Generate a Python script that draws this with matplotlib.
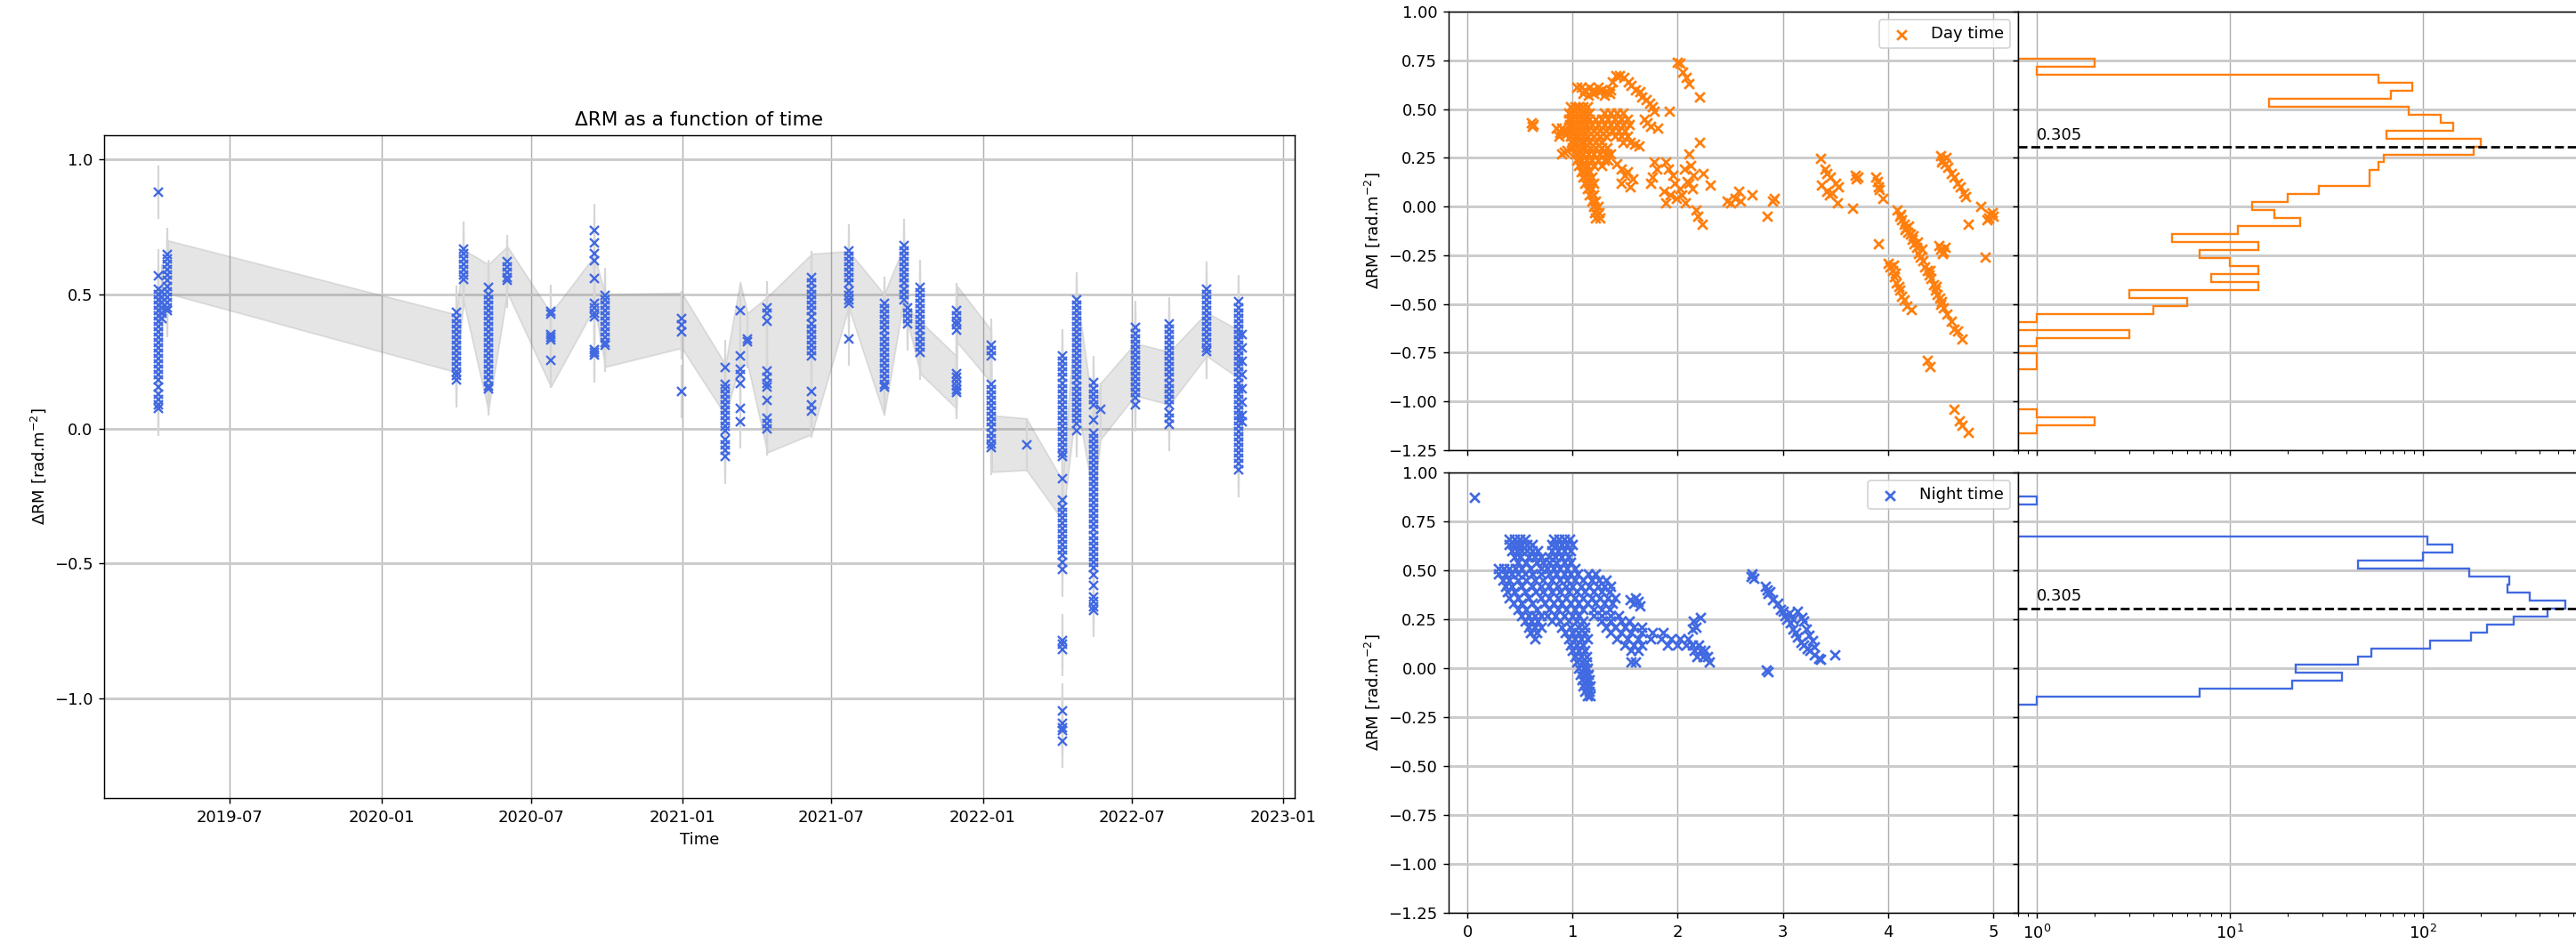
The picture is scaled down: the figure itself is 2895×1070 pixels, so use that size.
import numpy as np
import matplotlib.pyplot as plt
import matplotlib.dates as mdates

BLUE = 'royalblue'
ORANGE = '#ff7f0e'

# ---------------- time series: dRM values per observing day ----------------
ts_dates = ['2019-04-05', '2019-04-09', '2019-04-16', '2020-04-01', '2020-04-10',
            '2020-05-10', '2020-06-02', '2020-07-25', '2020-09-16', '2020-09-29',
            '2020-12-31', '2021-02-22', '2021-03-12', '2021-03-21', '2021-04-14',
            '2021-06-07', '2021-07-22', '2021-09-03', '2021-09-27', '2021-10-02',
            '2021-10-17', '2021-11-30', '2022-01-11', '2022-02-23', '2022-04-08',
            '2022-04-25', '2022-05-16', '2022-05-24', '2022-07-05', '2022-08-16',
            '2022-09-30', '2022-11-08', '2022-11-12']
ts_values = [
    [0.879, 0.567, 0.52, 0.50, 0.48, 0.46, 0.44, 0.42, 0.40, 0.38, 0.36, 0.34, 0.32, 0.30,
     0.28, 0.26, 0.24, 0.22, 0.20, 0.18, 0.155, 0.13, 0.11, 0.09, 0.075],
    [0.51, 0.49, 0.47, 0.45, 0.43, 0.41],
    [0.648, 0.63, 0.61, 0.59, 0.57, 0.55, 0.53, 0.51, 0.49, 0.47, 0.45, 0.44],
    [0.432, 0.41, 0.39, 0.37, 0.35, 0.33, 0.31, 0.29, 0.27, 0.25, 0.23, 0.21, 0.197, 0.18],
    [0.668, 0.65, 0.63, 0.61, 0.59, 0.57, 0.554],
    [0.526, 0.50, 0.48, 0.46, 0.44, 0.42, 0.40, 0.38, 0.36, 0.34, 0.32, 0.30, 0.28, 0.26,
     0.24, 0.22, 0.20, 0.18, 0.16, 0.148],
    [0.62, 0.60, 0.58, 0.56, 0.55],
    [0.435, 0.425, 0.35, 0.34, 0.33, 0.253],
    [0.736, 0.689, 0.652, 0.624, 0.559, 0.465, 0.45, 0.43, 0.416, 0.294, 0.285, 0.273],
    [0.497, 0.48, 0.46, 0.44, 0.42, 0.40, 0.38, 0.36, 0.34, 0.32, 0.31],
    [0.411, 0.385, 0.359, 0.138],
    [0.229, 0.164, 0.15, 0.13, 0.11, 0.09, 0.07, 0.05, 0.03, 0.01, -0.006, -0.04, -0.06,
     -0.08, -0.104],
    [0.44, 0.27, 0.22, 0.20, 0.17, 0.075, 0.026],
    [0.335, 0.325],
    [0.448, 0.43, 0.40, 0.213, 0.19, 0.17, 0.156, 0.107, 0.039, 0.02, 0.0],
    [0.562, 0.54, 0.52, 0.50, 0.48, 0.46, 0.44, 0.416, 0.39, 0.37, 0.35, 0.33, 0.31, 0.29,
     0.27, 0.14, 0.09, 0.067],
    [0.66, 0.64, 0.62, 0.60, 0.58, 0.56, 0.54, 0.513, 0.497, 0.48, 0.465, 0.335],
    [0.465, 0.445, 0.425, 0.405, 0.385, 0.365, 0.345, 0.325, 0.305, 0.285, 0.265, 0.245,
     0.225, 0.205, 0.185, 0.165, 0.156],
    [0.679, 0.66, 0.64, 0.62, 0.60, 0.58, 0.56, 0.54, 0.52, 0.50, 0.48],
    [0.448, 0.43, 0.41, 0.39],
    [0.526, 0.505, 0.485, 0.465, 0.445, 0.425, 0.405, 0.385, 0.365, 0.345, 0.325, 0.305, 0.283],
    [0.44, 0.42, 0.40, 0.385, 0.367, 0.205, 0.19, 0.175, 0.16, 0.145, 0.136],
    [0.31, 0.29, 0.27, 0.164, 0.145, 0.125, 0.105, 0.085, 0.065, 0.045, 0.025, 0.005,
     -0.015, -0.035, -0.055, -0.071],
    [-0.06],
    [0.27, 0.25, 0.23, 0.21, 0.19, 0.17, 0.15, 0.13, 0.11, 0.09, 0.07, 0.05, 0.03, 0.01,
     -0.01, -0.03, -0.05, -0.07, -0.09, -0.104, -0.185, -0.266, -0.29, -0.31, -0.33, -0.35,
     -0.37, -0.39, -0.41, -0.43, -0.45, -0.47, -0.494, -0.523, -0.786, -0.80, -0.819,
     -1.046, -1.095, -1.11, -1.12, -1.16],
    [0.48, 0.46, 0.44, 0.42, 0.40, 0.38, 0.36, 0.34, 0.32, 0.30, 0.28, 0.26, 0.24, 0.22,
     0.20, 0.18, 0.16, 0.14, 0.12, 0.10, 0.08, 0.06, 0.04, 0.02, -0.006],
    [0.172, 0.15, 0.13, 0.11, 0.09, 0.034, -0.015, -0.035, -0.055, -0.075, -0.095, -0.115,
     -0.135, -0.155, -0.175, -0.195, -0.215, -0.235, -0.255, -0.275, -0.295, -0.315, -0.335,
     -0.355, -0.375, -0.395, -0.415, -0.435, -0.455, -0.475, -0.495, -0.515, -0.543, -0.58,
     -0.624, -0.64, -0.66, -0.673],
    [0.071],
    [0.375, 0.355, 0.335, 0.315, 0.295, 0.275, 0.255, 0.235, 0.215, 0.195, 0.175, 0.155,
     0.135, 0.115, 0.09],
    [0.39, 0.37, 0.35, 0.33, 0.31, 0.29, 0.27, 0.25, 0.23, 0.21, 0.19, 0.17, 0.15, 0.13,
     0.11, 0.09, 0.058, 0.04, 0.018],
    [0.52, 0.50, 0.48, 0.46, 0.44, 0.42, 0.40, 0.38, 0.36, 0.34, 0.32, 0.30, 0.286],
    [0.473, 0.45, 0.43, 0.41, 0.39, 0.37, 0.35, 0.33, 0.31, 0.29, 0.27, 0.25, 0.23, 0.21,
     0.19, 0.17, 0.15, 0.13, 0.11, 0.09, 0.07, 0.05, 0.03, 0.01, -0.01, -0.03, -0.05, -0.07,
     -0.09, -0.11, -0.13, -0.153],
    [0.35, 0.30, 0.25, 0.20, 0.15, 0.10, 0.05, 0.026],
]
rm_err = 0.1

# grey envelope (daily mean +/- spread)
band_dates = ['2019-04-16', '2020-04-01', '2020-04-10', '2020-05-10', '2020-06-02',
              '2020-07-25', '2020-09-16', '2020-09-29', '2020-12-31', '2021-02-22',
              '2021-03-12', '2021-03-21', '2021-04-14', '2021-06-07', '2021-07-22',
              '2021-09-03', '2021-09-27', '2021-10-02', '2021-10-17', '2021-11-30',
              '2021-12-01', '2022-01-11', '2022-01-12', '2022-02-23', '2022-04-08',
              '2022-04-25', '2022-05-16', '2022-05-24', '2022-07-05', '2022-08-16',
              '2022-09-30', '2022-11-08']
band_lo = [0.503, 0.21, 0.47, 0.067, 0.505, 0.156, 0.45, 0.23, 0.30, 0.05, 0.237, 0.24,
           -0.088, -0.02, 0.45, 0.05, 0.48, 0.39, 0.205, 0.075, 0.32, 0.172, -0.16, -0.153,
           -0.34, 0.10, -0.266, -0.04, 0.123, 0.09, 0.27, 0.188]
band_hi = [0.700, 0.425, 0.665, 0.611, 0.678, 0.43, 0.643, 0.50, 0.505, 0.24, 0.546, 0.43,
           0.49, 0.65, 0.66, 0.50, 0.68, 0.45, 0.40, 0.27, 0.53, 0.367, 0.05, 0.039,
           -0.193, 0.51, 0.05, 0.17, 0.318, 0.286, 0.432, 0.367]

# ---------------- day time scatter ----------------
day_rows_y = [0.51, 0.48, 0.45, 0.42, 0.39, 0.36, 0.33, 0.30, 0.27, 0.24, 0.21, 0.18,
              0.15, 0.12, 0.09, 0.06, 0.03, 0.00, -0.03, -0.06]
day_rows_x = [
    [0.98, 1.02, 1.06, 1.10, 1.14],
    [0.96, 1.00, 1.04, 1.08, 1.12, 1.16, 1.30, 1.36, 1.42, 1.48],
    [0.96, 1.00, 1.04, 1.08, 1.12, 1.16, 1.22, 1.28, 1.34, 1.40, 1.46, 1.52],
    [0.97, 1.01, 1.05, 1.09, 1.13, 1.18, 1.24, 1.30, 1.36, 1.42, 1.48, 1.54],
    [0.98, 1.02, 1.06, 1.10, 1.14, 1.20, 1.26, 1.32, 1.38, 1.44, 1.50],
    [0.98, 1.02, 1.06, 1.10, 1.14, 1.20, 1.26, 1.32, 1.40, 1.46, 1.52],
    [0.99, 1.03, 1.07, 1.11, 1.16, 1.22, 1.28, 1.48, 1.55],
    [1.00, 1.04, 1.08, 1.12, 1.17, 1.22, 1.28, 1.33],
    [1.02, 1.06, 1.10, 1.15, 1.20, 1.26, 1.31, 1.36],
    [1.04, 1.08, 1.13, 1.18, 1.24, 1.30, 1.34],
    [1.06, 1.10, 1.14, 1.20, 1.28],
    [1.08, 1.12, 1.16],
    [1.10, 1.14, 1.18],
    [1.12, 1.16, 1.20],
    [1.14, 1.18],
    [1.16, 1.20],
    [1.18, 1.22],
    [1.20, 1.24],
    [1.21, 1.25],
    [1.22, 1.26],
]
day_points = [
    (0.61, 0.43), (0.62, 0.41), (0.63, 0.42), (0.85, 0.40), (0.87, 0.36), (0.88, 0.38),
    (0.90, 0.40), (0.93, 0.37), (0.95, 0.39), (0.97, 0.41), (0.90, 0.27), (0.92, 0.28),
    (0.95, 0.29),
    (1.04, 0.61), (1.08, 0.61), (1.12, 0.60), (1.16, 0.61), (1.20, 0.60), (1.24, 0.61),
    (1.28, 0.60), (1.32, 0.59), (1.36, 0.60), (1.10, 0.58), (1.15, 0.57), (1.20, 0.58),
    (1.25, 0.59), (1.30, 0.57), (1.35, 0.58),
    (1.38, 0.64), (1.41, 0.67), (1.45, 0.67), (1.49, 0.66), (1.53, 0.64), (1.56, 0.62),
    (1.60, 0.60), (1.64, 0.59), (1.66, 0.56), (1.70, 0.55), (1.73, 0.53), (1.76, 0.51),
    (1.78, 0.49), (1.68, 0.45), (1.71, 0.43), (1.74, 0.41), (1.81, 0.40),
    (1.33, 0.27), (1.42, 0.22), (1.46, 0.19), (1.50, 0.16), (1.46, 0.12), (1.52, 0.18),
    (1.57, 0.14), (1.55, 0.10), (1.59, 0.32), (1.63, 0.31), (1.78, 0.23), (1.80, 0.19),
    (1.76, 0.15), (1.74, 0.12),
    (1.89, 0.23), (1.91, 0.19), (1.95, 0.16), (1.97, 0.12), (2.02, 0.09), (2.04, 0.06),
    (2.07, 0.02), (1.87, 0.08), (1.89, 0.02), (2.06, 0.19), (2.12, 0.21), (2.15, 0.16),
    (2.17, -0.02), (2.19, -0.05), (2.23, -0.09), (2.11, 0.12), (2.24, 0.17), (1.93, 0.06),
    (1.99, 0.04), (2.09, 0.13), (2.14, 0.09),
    (2.00, 0.74), (2.02, 0.735), (2.05, 0.69), (2.08, 0.66), (2.11, 0.63), (2.21, 0.56),
    (1.92, 0.49), (2.21, 0.33), (2.11, 0.27), (2.31, 0.11),
    (2.47, 0.03), (2.50, 0.02), (2.55, 0.04), (2.58, 0.08), (2.60, 0.03), (2.71, 0.06),
    (2.85, -0.05), (2.90, 0.03), (2.92, 0.04),
    (3.36, 0.245), (3.40, 0.19), (3.42, 0.17), (3.45, 0.15), (3.50, 0.12), (3.53, 0.10),
    (3.37, 0.11), (3.42, 0.08), (3.44, 0.06), (3.47, 0.07), (3.52, 0.02), (3.66, -0.01),
    (3.69, 0.16), (3.71, 0.15), (3.70, 0.14), (3.88, 0.15), (3.90, 0.13), (3.91, 0.10),
    (3.92, 0.085), (3.95, 0.04), (3.91, -0.19),
    (4.00, -0.29), (4.02, -0.31), (4.04, -0.33), (4.06, -0.36), (4.08, -0.39), (4.10, -0.41),
    (4.11, -0.43), (4.13, -0.46), (4.15, -0.48), (4.18, -0.51), (4.22, -0.53), (4.05, -0.30),
    (4.07, -0.34),
    (4.09, -0.02), (4.11, -0.05), (4.13, -0.07), (4.15, -0.09), (4.17, -0.11), (4.19, -0.13),
    (4.21, -0.14), (4.23, -0.17), (4.25, -0.19), (4.27, -0.21), (4.29, -0.24), (4.31, -0.26),
    (4.33, -0.28), (4.35, -0.31), (4.37, -0.33), (4.39, -0.35), (4.41, -0.37), (4.43, -0.40),
    (4.45, -0.43), (4.47, -0.45), (4.49, -0.47), (4.51, -0.49), (4.53, -0.52), (4.56, -0.55),
    (4.60, -0.59), (4.63, -0.63), (4.66, -0.64), (4.70, -0.68), (4.12, -0.04), (4.16, -0.12),
    (4.20, -0.10), (4.24, -0.15), (4.28, -0.18), (4.32, -0.22), (4.40, -0.33), (4.46, -0.41),
    (4.50, -0.50),
    (4.48, -0.20), (4.50, -0.22), (4.52, -0.24), (4.54, -0.21), (4.53, -0.23),
    (4.50, 0.26), (4.52, 0.24), (4.54, 0.22), (4.57, 0.20), (4.60, 0.17), (4.63, 0.15),
    (4.66, 0.12), (4.69, 0.10), (4.72, 0.07), (4.74, 0.05), (4.51, 0.23), (4.55, 0.25),
    (4.88, 0.00), (4.94, -0.07), (4.97, -0.04), (5.00, -0.05), (4.99, -0.03), (4.96, -0.06),
    (4.76, -0.09), (4.92, -0.26),
    (4.63, -1.04), (4.68, -1.10), (4.70, -1.12), (4.76, -1.16), (4.37, -0.79), (4.40, -0.82),
]

# ---------------- night time scatter ----------------
night_rows_y = [0.66, 0.63, 0.60, 0.57, 0.54, 0.51, 0.48, 0.45, 0.42, 0.39, 0.36, 0.33,
                0.30, 0.27, 0.24, 0.21, 0.18, 0.15, 0.12, 0.09, 0.06, 0.03, 0.00, -0.03,
                -0.06, -0.09, -0.12, -0.14]
night_rows_x = [
    [0.40, 0.45, 0.50, 0.55, 0.82, 0.87, 0.92, 0.97],
    [0.40, 0.44, 0.48, 0.52, 0.57, 0.62, 0.80, 0.85, 0.90, 0.95, 1.00],
    [0.42, 0.47, 0.52, 0.57, 0.62, 0.67, 0.80, 0.86, 0.92, 0.98],
    [0.45, 0.50, 0.58, 0.64, 0.70, 0.78, 0.84, 0.90, 0.96],
    [0.48, 0.56, 0.66, 0.72, 0.78, 0.85, 0.92, 0.98],
    [0.30, 0.35, 0.40, 0.46, 0.52, 0.60, 0.70, 0.76, 0.82, 0.88, 0.95, 1.02],
    [0.30, 0.36, 0.42, 0.48, 0.55, 0.62, 0.70, 0.78, 0.85, 0.92, 0.98, 1.05, 1.15, 1.22],
    [0.34, 0.40, 0.48, 0.56, 0.64, 0.72, 0.80, 0.88, 0.95, 1.02, 1.10, 1.18, 1.25, 1.32],
    [0.36, 0.42, 0.52, 0.62, 0.70, 0.78, 0.86, 0.94, 1.00, 1.08, 1.16, 1.24, 1.30, 1.36],
    [0.38, 0.45, 0.55, 0.65, 0.72, 0.80, 0.88, 0.96, 1.04, 1.12, 1.20, 1.28, 1.35],
    [0.40, 0.48, 0.58, 0.70, 0.78, 0.86, 0.94, 1.02, 1.10, 1.18, 1.26, 1.34, 1.40],
    [0.44, 0.52, 0.62, 0.74, 0.82, 0.90, 0.98, 1.06, 1.14, 1.22, 1.30, 1.38],
    [0.48, 0.56, 0.66, 0.78, 0.86, 0.94, 1.02, 1.10, 1.20, 1.28, 1.35],
    [0.52, 0.58, 0.64, 0.70, 0.76, 0.84, 0.92, 1.00, 1.06, 1.20, 1.28, 1.36, 1.44],
    [0.55, 0.61, 0.67, 0.80, 0.88, 0.96, 1.04, 1.10, 1.28, 1.36, 1.46, 1.54],
    [0.58, 0.64, 0.70, 0.90, 0.98, 1.06, 1.12, 1.32, 1.40, 1.50, 1.58, 1.66],
    [0.60, 0.66, 0.93, 1.00, 1.06, 1.12, 1.36, 1.46, 1.56, 1.66, 1.76, 1.86],
    [0.64, 0.96, 1.02, 1.08, 1.14, 1.42, 1.52, 1.62, 1.74, 1.84, 1.94, 2.02, 2.10],
    [0.98, 1.04, 1.10, 1.50, 1.58, 1.66, 1.90, 2.00, 2.08, 2.14, 2.20],
    [1.00, 1.06, 1.12, 1.56, 1.62, 2.16, 2.22, 2.26],
    [1.02, 1.08, 1.13, 2.18, 2.24, 2.28],
    [1.04, 1.09, 1.13, 1.56, 1.60, 2.30],
    [1.06, 1.11, 1.14],
    [1.07, 1.12, 1.15],
    [1.09, 1.13, 1.16],
    [1.10, 1.14, 1.17],
    [1.12, 1.16],
    [1.14, 1.17],
]
night_points = [
    (0.07, 0.875), (1.55, 0.35), (1.58, 0.33), (1.62, 0.34), (1.64, 0.32), (1.60, 0.36),
    (2.15, 0.24), (2.17, 0.21), (2.22, 0.26), (2.14, 0.20),
    (2.70, 0.47), (2.72, 0.46), (2.71, 0.48), (2.83, 0.42), (2.85, 0.40), (2.86, 0.38),
    (2.88, 0.39), (2.90, 0.35), (2.95, 0.33), (2.98, 0.30), (3.00, 0.29), (3.02, 0.27),
    (3.04, 0.25), (3.07, 0.23), (3.10, 0.20), (3.12, 0.18), (3.14, 0.16), (3.17, 0.13),
    (3.20, 0.12), (3.23, 0.10), (3.26, 0.09), (3.30, 0.07), (3.34, 0.05), (3.36, 0.045),
    (3.14, 0.29), (3.18, 0.26), (3.20, 0.24), (3.22, 0.20), (3.25, 0.17), (3.28, 0.14),
    (3.30, 0.11), (3.06, 0.28), (3.10, 0.25), (3.49, 0.07), (2.84, -0.01), (2.86, -0.02),
]

# ---------------- histograms (counts per bin, listed from top to bottom) ----------------
day_hist_top, day_hist_bottom = 0.7579, -1.1636
day_counts = [2, 1, 59, 88, 68, 16, 84, 124, 144, 65, 199, 184, 63, 59, 53, 53, 29, 20,
              13, 17, 23, 11, 5, 14, 7, 10, 14, 8, 14, 3, 6, 4, 1, 0, 3, 1, 0, 1, 1, 0,
              0, 0, 0, 0, 1, 2, 1]
night_hist_top, night_hist_bottom = 0.8776, -0.1879
night_counts = [1, 0, 0, 0, 0, 105, 142, 100, 46, 174, 280, 275, 356, 547, 442, 294,
                215, 178, 109, 54, 46, 22, 38, 21, 7, 1]
median_rm = 0.305


def rows_to_xy(rows_y, rows_x, extra):
    xs, ys = [], []
    for y, row in zip(rows_y, rows_x):
        xs += row
        ys += [y] * len(row)
    xs += [p[0] for p in extra]
    ys += [p[1] for p in extra]
    return xs, ys


def grid_style(ax):
    ax.grid(axis='x', color='#b0b0b0', lw=0.8)
    ax.grid(axis='y', color='#cbcbcb', lw=1.6)
    ax.set_axisbelow(True)


W, H, DPI = 2895, 1070, 130
fig = plt.figure(figsize=(W / DPI, H / DPI), dpi=DPI)

# ---- left panel ----
ax = fig.add_axes([117 / W, 1 - 897 / H, (1455 - 117) / W, (897 - 152) / H])
t_all, v_all = [], []
for d, vals in zip(ts_dates, ts_values):
    t_all += [np.datetime64(d)] * len(vals)
    v_all += vals
t_all = np.array(t_all)
ax.fill_between(np.array(band_dates, dtype='datetime64[D]'), band_lo, band_hi,
                color='gray', alpha=0.2, zorder=1)
ax.errorbar(t_all, v_all, yerr=rm_err, fmt='x', color=BLUE, ecolor='#d6d6d6',
            elinewidth=1.2, ms=5.5, mew=1.3, zorder=3)
ax.xaxis.set_major_locator(mdates.MonthLocator(bymonth=[1, 7]))
ax.xaxis.set_major_formatter(mdates.DateFormatter('%Y-%m'))
ax.set_xlim(np.datetime64('2019-01-29'), np.datetime64('2023-01-15'))
ax.set_ylim(-1.371, 1.09)
grid_style(ax)
ax.set_title('ΔRM as a function of time')
ax.set_xlabel('Time')
ax.set_ylabel('ΔRM [rad.m$^{-2}$]')

# ---- right panels ----
sw = 640 / W
ax_day = fig.add_axes([1628 / W, 1 - 506 / H, sw, 493 / H])
ax_dh = fig.add_axes([2268 / W, 1 - 506 / H, sw, 493 / H], sharey=ax_day)
ax_night = fig.add_axes([1628 / W, 1 - 1026 / H, sw, 495 / H], sharex=ax_day)
ax_nh = fig.add_axes([2268 / W, 1 - 1026 / H, sw, 495 / H], sharey=ax_night, sharex=ax_dh)

dx, dy = rows_to_xy(day_rows_y, day_rows_x, day_points)
nx, ny = rows_to_xy(night_rows_y, night_rows_x, night_points)
ax_day.scatter(dx, dy, marker='x', color=ORANGE, s=36, lw=1.5, label='Day time')
ax_night.scatter(nx, ny, marker='x', color=BLUE, s=36, lw=1.5, label='Night time')

for a in (ax_day, ax_night):
    a.set_xlim(-0.178, 5.237)
    a.set_ylim(-1.25, 1.0)
    a.set_yticks([-1.25, -1.0, -0.75, -0.5, -0.25, 0.0, 0.25, 0.5, 0.75, 1.0])
    a.set_ylabel('ΔRM [rad.m$^{-2}$]')
    a.legend(loc='upper right')
    grid_style(a)
ax_day.tick_params(labelbottom=False)
# the figure is cropped at the bottom: only the top of this label is visible
ax_night.set_xlabel('RM$_{iono}$ [rad.m$^{-2}$]', labelpad=7)

for a, counts, top, bottom, col in ((ax_dh, day_counts, day_hist_top, day_hist_bottom, ORANGE),
                                    (ax_nh, night_counts, night_hist_top, night_hist_bottom, BLUE)):
    edges = np.linspace(bottom, top, len(counts) + 1)
    a.stairs(counts[::-1], edges, orientation='horizontal', baseline=0, color=col, lw=1.3)
    a.set_xscale('log')
    a.axhline(median_rm, color='k', ls='--', lw=1.5)
    a.text(1.0, median_rm + 0.04, '%.3f' % median_rm, fontsize=10)
    a.tick_params(labelleft=False)
    grid_style(a)
ax_dh.set_xlim(0.8, 712)
ax_dh.tick_params(labelbottom=False)

fig.savefig('out.png', dpi=DPI)
